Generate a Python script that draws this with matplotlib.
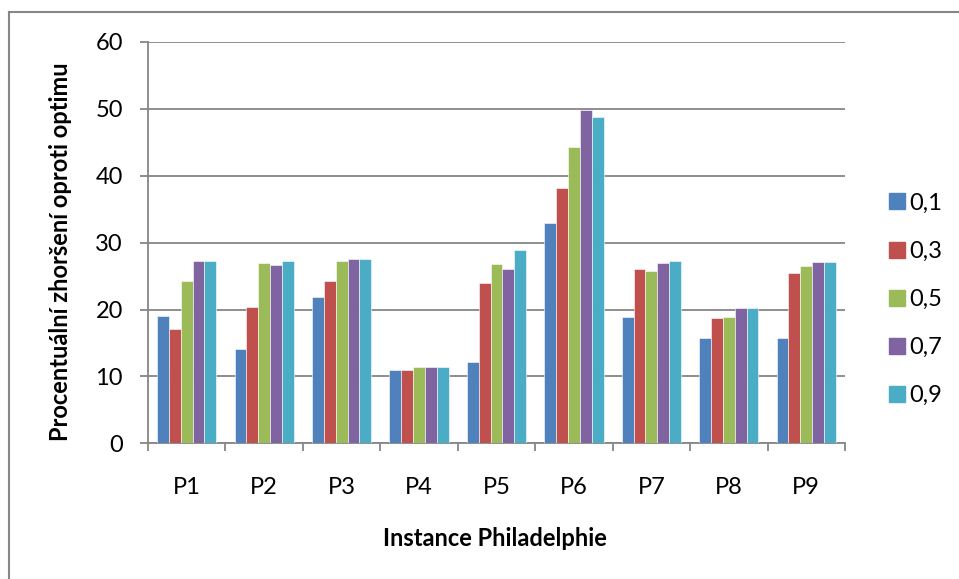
import matplotlib.pyplot as plt
import numpy as np
from matplotlib.lines import Line2D

plt.rcParams['font.family'] = ['Lato', 'DejaVu Sans']

instances = ['P1', 'P2', 'P3', 'P4', 'P5', 'P6', 'P7', 'P8', 'P9']
series_labels = ['0,1', '0,3', '0,5', '0,7', '0,9']
colors = ['#4f81bd', '#c0504d', '#9bbb59', '#8064a2', '#4bacc6']

v01 = [19.0, 14.1, 21.8, 11.0, 12.1, 33.0, 18.9, 15.8, 15.7]
v03 = [17.1, 20.4, 24.2, 11.0, 23.9, 38.1, 26.0, 18.7, 25.5]
v05 = [24.2, 27.0, 27.3, 11.4, 26.8, 44.3, 25.8, 18.9, 26.5]
v07 = [27.3, 26.6, 27.6, 11.4, 26.0, 49.9, 27.0, 20.2, 27.1]
v09 = [27.3, 27.3, 27.6, 11.4, 28.9, 48.8, 27.2, 20.2, 27.1]
values = [v01, v03, v05, v07, v09]

fig = plt.figure(figsize=(9.59, 5.79), dpi=100)
ax = fig.add_axes([0.1543, 0.2344, 0.7268, 0.6931])

grid_col = '#868686'
x = np.arange(len(instances))
w = 0.153
for i, (vals, col, lab) in enumerate(zip(values, colors, series_labels)):
    ax.bar(x + (i - 2) * w, vals, width=w, color=col, label=lab,
           edgecolor='white', linewidth=0.4, zorder=3)

ax.set_xlim(-0.5, len(instances) - 0.5)
ax.set_ylim(0, 60)
ax.set_yticks(range(0, 61, 10))
ax.yaxis.grid(True, color=grid_col, linewidth=1.3, zorder=0)

# category ticks sit between groups, labels centred under each group
ax.set_xticks(np.arange(-0.5, len(instances), 1.0))
ax.set_xticklabels([])
ax.set_xticks(x, minor=True)
ax.set_xticklabels(instances, minor=True, fontsize=17)
ax.tick_params(axis='x', which='minor', length=0, pad=24)
ax.tick_params(axis='x', which='major', length=6, width=1.3, color=grid_col)
ax.tick_params(axis='y', length=6, width=1.3, color=grid_col, labelsize=17, pad=12)

for s in ['top', 'right']:
    ax.spines[s].set_visible(False)
for s in ['left', 'bottom']:
    ax.spines[s].set_color(grid_col)
    ax.spines[s].set_linewidth(1.3)

fig.text(61 / 959, 1 - 252 / 579, 'Procentuální zhoršení oproti optimu',
         rotation=90, ha='center', va='center', fontsize=17, fontweight='bold')
fig.text(495 / 959, 1 - 539 / 579, 'Instance Philadelphie',
         ha='center', va='center', fontsize=17, fontweight='bold')

handles = [Line2D([], [], marker='s', linestyle='none', markersize=11,
                  markerfacecolor=c, markeredgecolor=c) for c in colors]
fig.legend(handles, series_labels, loc='center left',
           bbox_to_anchor=(876 / 959, 1 - 299.5 / 579), frameon=False, fontsize=17,
           labelspacing=1.15, handletextpad=0.1, handlelength=0.8, borderpad=0)

# outer chart border
fig.add_artist(Line2D([0.0094, 0.0094], [0, 1 - 12 / 579], color=grid_col,
                      linewidth=1.5, transform=fig.transFigure))
fig.add_artist(Line2D([0.0094, 1], [1 - 12 / 579, 1 - 12 / 579], color=grid_col,
                      linewidth=1.5, transform=fig.transFigure))

fig.savefig('out.png', dpi=100)
